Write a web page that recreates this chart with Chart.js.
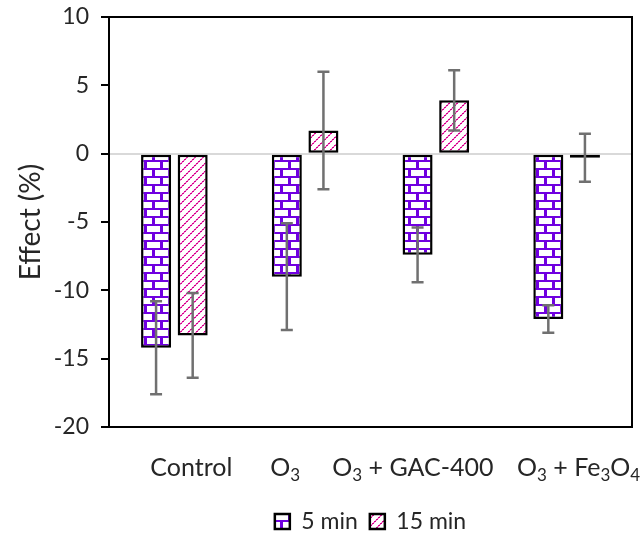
<!DOCTYPE html>
<html>
<head>
<meta charset="utf-8">
<script src="https://cdn.jsdelivr.net/npm/chart.js@4"></script>
<style>
    html, body { margin: 0; padding: 0; background: #fff; }
    #wrap { width: 640px; height: 540px; }
</style>
</head>
<body>
<div id="wrap"><canvas id="chart" width="640" height="540"></canvas></div>
<script>
// Data
const categories = ['Control', 'O₃', 'O₃ + GAC-400', 'O₃ + Fe₃O₄'];
const seriesNames = ['5 min', '15 min'];
const values5 = [-14.2, -9.0, -7.4, -12.1];
const values15 = [-13.3, 1.7, 3.9, -0.3];
const errors5 = [3.4, 3.9, 2.0, 1.0];
const errors15 = [3.1, 4.3, 2.2, 1.75];
const yTicks = [-20, -15, -10, -5, 0, 5, 10];

const FONT = "Lato, 'Open Sans', 'DejaVu Sans', sans-serif";
const TEXT = '#262626';
// horizontal nudge of each category label, as placed in the original figure
const LABEL_SHIFT = [17, -20, -23, 12];

// Fill patterns (brick for 5 min, dotted diagonal for 15 min)
function brickPattern() {
    const c = document.createElement('canvas');
    c.width = 16; c.height = 16;
    const g = c.getContext('2d');
    g.fillStyle = '#ffffff';
    g.fillRect(0, 0, 16, 16);
    g.fillStyle = '#7000e0';
    g.fillRect(0, 0, 16, 2);
    g.fillRect(0, 8, 16, 2);
    g.fillRect(0, 0, 3, 8);
    g.fillRect(8, 8, 3, 8);
    return g.createPattern(c, 'repeat');
}

function diagPattern() {
    const c = document.createElement('canvas');
    c.width = 8; c.height = 8;
    const g = c.getContext('2d');
    g.fillStyle = '#ffffff';
    g.fillRect(0, 0, 8, 8);
    for (let i = 0; i < 8; i++) {
        g.fillStyle = i % 2 === 0 ? '#d6008f' : '#f27cc8';
        g.fillRect(i, 7 - i, 1, 1);
        g.fillRect((i + 1) % 8, 7 - i, 1, 1);
    }
    return g.createPattern(c, 'repeat');
}

const errorBars = {
    id: 'errorBars',
    afterDatasetsDraw(chart) {
        const ctx = chart.ctx;
        const y = chart.scales.y;
        const errs = [errors5, errors15];
        ctx.save();
        ctx.strokeStyle = '#707070';
        ctx.lineWidth = 2.5;
        chart.data.datasets.forEach((ds, i) => {
            const meta = chart.getDatasetMeta(i);
            meta.data.forEach((bar, j) => {
                const v = ds.data[j];
                const top = y.getPixelForValue(v + errs[i][j]);
                const bot = y.getPixelForValue(v - errs[i][j]);
                const x = bar.x;
                ctx.beginPath();
                ctx.moveTo(x, top); ctx.lineTo(x, bot);
                ctx.moveTo(x - 6, top); ctx.lineTo(x + 6, top);
                ctx.moveTo(x - 6, bot); ctx.lineTo(x + 6, bot);
                ctx.stroke();
            });
        });
        ctx.restore();
    }
};

// category labels with real subscripts (₃ / ₄ drawn as small lowered digits)
const SUBS = { '₃': '3', '₄': '4' };
const subLabels = {
    id: 'subLabels',
    afterDraw(chart) {
        const ctx = chart.ctx;
        const x = chart.scales.x;
        const base = chart.chartArea.bottom + 49;
        const big = '25px ' + FONT;
        const small = '17px ' + FONT;
        ctx.save();
        ctx.fillStyle = TEXT;
        ctx.textBaseline = 'alphabetic';
        ctx.textAlign = 'left';
        chart.data.labels.forEach((label, i) => {
            const runs = [];
            for (const ch of label) {
                const sub = ch in SUBS;
                const last = runs[runs.length - 1];
                if (last && last.sub === sub) last.text += sub ? SUBS[ch] : ch;
                else runs.push({ sub, text: sub ? SUBS[ch] : ch });
            }
            let w = 0;
            runs.forEach(r => { ctx.font = r.sub ? small : big; r.w = ctx.measureText(r.text).width; w += r.w; });
            let cx = x.getPixelForValue(i) + LABEL_SHIFT[i] - w / 2;
            runs.forEach(r => {
                ctx.font = r.sub ? small : big;
                ctx.fillText(r.text, cx, r.sub ? base + 5 : base);
                cx += r.w;
            });
        });
        ctx.restore();
    }
};

const frame = {
    id: 'frame',
    afterLayout(chart) {
        // centre the legend under the plot area, nudge it down a bit
        const a = chart.chartArea;
        const lg = chart.legend;
        lg.left = a.left;
        lg.right = a.right;
        lg.top += 3;
        lg.bottom += 3;
    },
    afterDraw(chart) {
        const a = chart.chartArea;
        const ctx = chart.ctx;
        ctx.save();
        ctx.strokeStyle = '#000';
        ctx.lineWidth = 2;
        ctx.beginPath();
        ctx.moveTo(a.left, a.top); ctx.lineTo(a.right, a.top); ctx.lineTo(a.right, a.bottom);
        ctx.stroke();
        ctx.restore();
    }
};

new Chart(document.getElementById('chart'), {
    type: 'bar',
    data: {
        labels: categories,
        datasets: [
            {
                label: seriesNames[0],
                data: values5,
                backgroundColor: brickPattern(),
                borderColor: '#000',
                borderWidth: 2.5,
                borderSkipped: false
            },
            {
                label: seriesNames[1],
                data: values15,
                backgroundColor: diagPattern(),
                borderColor: '#000',
                borderWidth: 2.5,
                borderSkipped: false
            }
        ]
    },
    options: {
        responsive: false,
        animation: false,
        categoryPercentage: 0.56,
        barPercentage: 0.82,
        layout: { padding: { left: 0, right: 8, top: 17, bottom: 0 } },
        font: { family: FONT },
        scales: {
            x: {
                grid: { display: true, color: 'transparent', drawTicks: false },
                border: { display: true, color: '#000', width: 2 },
                ticks: { display: false },
                afterFit(scale) {
                    scale.height = 68;
                    scale.paddingLeft = 0;
                    scale.paddingRight = 0;
                }
            },
            y: {
                min: -20,
                max: 10,
                afterBuildTicks(scale) { scale.ticks = yTicks.map(v => ({ value: v })); },
                grid: {
                    color: c => c.tick && c.tick.value === 0 ? '#d9d9d9' : 'transparent',
                    lineWidth: 2,
                    tickColor: '#000',
                    tickWidth: 2,
                    tickLength: 8
                },
                border: { display: true, color: '#000', width: 2 },
                ticks: { color: TEXT, font: { family: FONT, size: 23 }, padding: 12 },
                title: { display: true, text: 'Effect (%)', color: TEXT, font: { family: FONT, size: 28 }, padding: { top: 14, bottom: 4 } },
                afterFit(scale) {
                    scale.width = 109;
                    scale.paddingTop = 0;
                    scale.paddingBottom = 0;
                }
            }
        },
        plugins: {
            legend: {
                position: 'bottom',
                labels: { color: TEXT, font: { family: FONT, size: 23 }, boxWidth: 15, boxHeight: 15, padding: 12 }
            },
            tooltip: { enabled: false }
        }
    },
    plugins: [errorBars, subLabels, frame]
});
</script>
</body>
</html>
